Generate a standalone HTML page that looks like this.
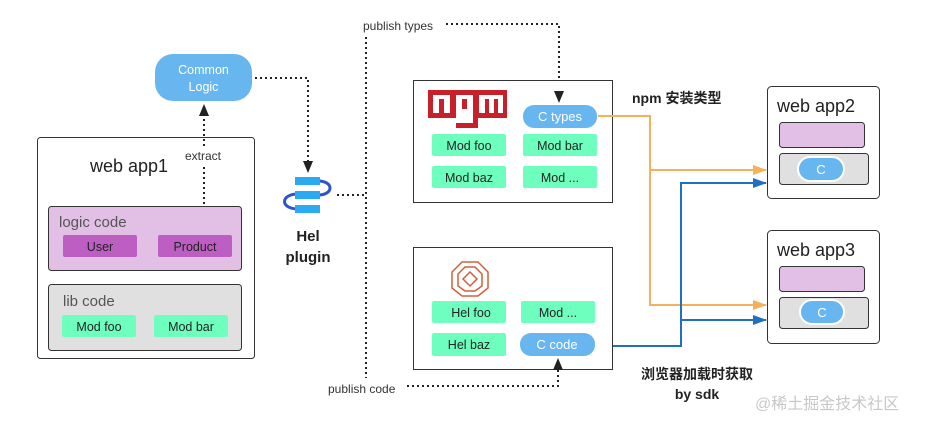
<!DOCTYPE html>
<html><head><meta charset="utf-8"><style>
html,body{margin:0;padding:0;background:#fff;}
svg{display:block;font-family:"Liberation Sans","Noto Sans CJK SC",sans-serif;}
</style></head><body>
<svg width="935" height="428" viewBox="0 0 935 428" xmlns="http://www.w3.org/2000/svg">
<defs>
<marker id="ao" markerWidth="14" markerHeight="10" refX="13" refY="5" orient="auto" markerUnits="userSpaceOnUse"><path d="M0,0 L14,5 L0,10 z" fill="#f7b05a"/></marker>
<marker id="abl" markerWidth="14" markerHeight="10" refX="13" refY="5" orient="auto" markerUnits="userSpaceOnUse"><path d="M0,0 L14,5 L0,10 z" fill="#1f6fc2"/></marker>
</defs>

<!-- web app1 -->
<rect x="37.5" y="137.5" width="217" height="221" rx="3" fill="#fff" stroke="#333" stroke-width="1"/>
<text x="90" y="172" font-size="18" fill="#222">web app1</text>
<rect x="48.5" y="206.5" width="193" height="64" rx="3" fill="#e2bfe5" stroke="#333"/>
<text x="59" y="227" font-size="15" fill="#555">logic code</text>
<rect x="63" y="235" width="74" height="22" rx="2" fill="#bd5fc2"/>
<text x="100" y="251" font-size="12.5" fill="#222" text-anchor="middle">User</text>
<rect x="158" y="235" width="74" height="22" rx="2" fill="#bd5fc2"/>
<text x="195" y="251" font-size="12.5" fill="#222" text-anchor="middle">Product</text>
<rect x="48.5" y="284.5" width="193" height="66" rx="3" fill="#e0e0e0" stroke="#333"/>
<text x="63" y="306" font-size="15" fill="#555">lib code</text>
<rect x="62" y="315" width="74" height="22" rx="2" fill="#6effbe"/>
<text x="99" y="331" font-size="12.5" fill="#222" text-anchor="middle">Mod foo</text>
<rect x="154" y="315" width="74" height="22" rx="2" fill="#6effbe"/>
<text x="191" y="331" font-size="12.5" fill="#222" text-anchor="middle">Mod bar</text>

<!-- common logic -->
<rect x="155" y="54" width="97" height="47" rx="18" fill="#67b6f0"/>
<text x="203.5" y="74" font-size="12.5" fill="#fff" text-anchor="middle">Common</text>
<text x="203.5" y="91" font-size="12.5" fill="#fff" text-anchor="middle">Logic</text>
<line x1="204" y1="204" x2="204" y2="166" stroke="#222" stroke-width="2" stroke-dasharray="2,3"/>
<line x1="204" y1="146" x2="204" y2="114" stroke="#222" stroke-width="2" stroke-dasharray="2,3"/>
<polygon points="204,104 199,116 209,116" fill="#222"/>
<text x="185" y="160" font-size="12" fill="#333">extract</text>
<polyline points="255,78 308,78 308,162" fill="none" stroke="#222" stroke-width="2" stroke-dasharray="2,3"/>
<polygon points="308,173 303,161 313,161" fill="#222"/>

<!-- hel plugin icon -->
<path d="M318,181 C334,181 334,195 318,195" fill="none" stroke="#2d55c8" stroke-width="3"/>
<path d="M298,194 C280,194 280,209 298,209" fill="none" stroke="#2d55c8" stroke-width="3"/>
<rect x="295" y="177" width="25" height="8" fill="#2aaaf0"/>
<rect x="295" y="191" width="25" height="8" fill="#2aaaf0"/>
<rect x="295" y="205" width="25" height="8" fill="#2aaaf0"/>
<text x="308" y="241" font-size="15" font-weight="bold" fill="#222" text-anchor="middle">Hel</text>
<text x="308" y="262" font-size="15" font-weight="bold" fill="#222" text-anchor="middle">plugin</text>
<line x1="337" y1="195" x2="366" y2="195" stroke="#222" stroke-width="2" stroke-dasharray="2,3"/>
<line x1="366" y1="37" x2="366" y2="378" stroke="#222" stroke-width="2" stroke-dasharray="2,3"/>
<text x="363" y="30" font-size="12" fill="#333">publish types</text>
<polyline points="446,24 559,24 559,92" fill="none" stroke="#222" stroke-width="2" stroke-dasharray="2,3"/>
<text x="328" y="393" font-size="12" fill="#333">publish code</text>
<polyline points="407,386 558,386 558,368" fill="none" stroke="#222" stroke-width="2" stroke-dasharray="2,3"/>

<!-- npm box -->
<rect x="413.5" y="80.5" width="199" height="122" fill="#fff" stroke="#333"/>
<rect x="428" y="90" width="79" height="28" fill="#c8202b"/>
<rect x="456" y="118" width="22" height="10" fill="#c8202b"/>
<rect x="433" y="95" width="17" height="18" fill="#fff"/>
<rect x="439" y="99" width="5" height="14" fill="#c8202b"/>
<rect x="456" y="95" width="17" height="28" fill="#fff"/>
<rect x="462" y="99" width="5" height="10" fill="#c8202b"/>
<rect x="479" y="95" width="24" height="18" fill="#fff"/>
<rect x="485" y="99" width="4" height="14" fill="#c8202b"/>
<rect x="494" y="99" width="4" height="14" fill="#c8202b"/>
<rect x="523" y="105" width="74" height="23" rx="11" fill="#67b6f0"/>
<text x="560" y="121" font-size="13" fill="#fff" text-anchor="middle">C types</text>
<rect x="432" y="134" width="74" height="22" rx="2" fill="#6effbe"/>
<text x="469" y="150" font-size="12.5" fill="#222" text-anchor="middle">Mod foo</text>
<rect x="523" y="134" width="74" height="22" rx="2" fill="#6effbe"/>
<text x="560" y="150" font-size="12.5" fill="#222" text-anchor="middle">Mod bar</text>
<rect x="432" y="166" width="74" height="22" rx="2" fill="#6effbe"/>
<text x="469" y="182" font-size="12.5" fill="#222" text-anchor="middle">Mod baz</text>
<rect x="523" y="166" width="74" height="22" rx="2" fill="#6effbe"/>
<text x="560" y="182" font-size="12.5" fill="#222" text-anchor="middle">Mod ...</text>

<!-- hel box -->
<rect x="413.5" y="247.5" width="199" height="122" fill="#fff" stroke="#333"/>
<g fill="none" stroke="#d0603a" stroke-width="1.5">
<path d="M462,262 L478,262 L488,272 L488,288 L478,296 L462,296 L452,288 L452,272 z"/>
<path d="M465,267 L475,267 L482,274 L482,286 L475,291 L465,291 L458,286 L458,274 z"/>
<path d="M470,272 L477,279 L470,286 L463,279 z"/>
</g>
<rect x="432" y="301" width="74" height="22" rx="2" fill="#6effbe"/>
<text x="471" y="317" font-size="12.5" fill="#222" text-anchor="middle">Hel foo</text>
<rect x="521" y="301" width="74" height="22" rx="2" fill="#6effbe"/>
<text x="558" y="317" font-size="12.5" fill="#222" text-anchor="middle">Mod ...</text>
<rect x="432" y="333" width="74" height="23" rx="2" fill="#6effbe"/>
<text x="469" y="349" font-size="12.5" fill="#222" text-anchor="middle">Hel baz</text>
<rect x="520" y="333" width="75" height="23" rx="11" fill="#67b6f0"/>
<text x="557" y="349" font-size="13" fill="#fff" text-anchor="middle">C code</text>

<!-- connectors -->
<polyline points="598,116 650,116 650,305 766,305" fill="none" stroke="#f7b05a" stroke-width="2" marker-end="url(#ao)"/>
<line x1="650" y1="170" x2="766" y2="170" stroke="#f7b05a" stroke-width="2" marker-end="url(#ao)"/>
<polyline points="613,346 681,346 681,183 766,183" fill="none" stroke="#1f6fc2" stroke-width="2" marker-end="url(#abl)"/>
<line x1="681" y1="320" x2="766" y2="320" stroke="#1f6fc2" stroke-width="2" marker-end="url(#abl)"/>
<text x="632" y="103" font-size="14" font-weight="bold" fill="#222">npm 安装类型</text>
<text x="697" y="379" font-size="14" font-weight="bold" fill="#222" text-anchor="middle">浏览器加载时获取</text>
<text x="697" y="399" font-size="14" font-weight="bold" fill="#222" text-anchor="middle">by sdk</text>

<!-- web app2 -->
<rect x="767.5" y="86.5" width="112" height="112" rx="4" fill="#fff" stroke="#333"/>
<text x="777" y="112" font-size="18" fill="#222">web app2</text>
<rect x="779.5" y="122.5" width="85" height="25" rx="3" fill="#e2bfe5" stroke="#333"/>
<rect x="779.5" y="153.5" width="89" height="31" rx="3" fill="#e0e0e0" stroke="#333"/>
<rect x="798" y="157" width="46" height="24" rx="12" fill="#67b6f0" stroke="#fff" stroke-width="2"/>
<text x="821" y="174" font-size="13" fill="#fff" text-anchor="middle">C</text>

<!-- web app3 -->
<rect x="767.5" y="230.5" width="112" height="113" rx="4" fill="#fff" stroke="#333"/>
<text x="777" y="256" font-size="18" fill="#222">web app3</text>
<rect x="779.5" y="266.5" width="85" height="25" rx="3" fill="#e2bfe5" stroke="#333"/>
<rect x="779.5" y="297.5" width="89" height="31" rx="3" fill="#e0e0e0" stroke="#333"/>
<rect x="800" y="300" width="44" height="24" rx="12" fill="#67b6f0" stroke="#fff" stroke-width="2"/>
<text x="822" y="317" font-size="13" fill="#fff" text-anchor="middle">C</text>

<!-- arrowheads on top -->
<polygon points="559,103 554,91 564,91" fill="#222"/>
<polygon points="558,358 553,370 563,370" fill="#222"/>

<text x="755" y="409" font-size="16" fill="#c8c8c8">@稀土掘金技术社区</text>
</svg>
</body></html>
